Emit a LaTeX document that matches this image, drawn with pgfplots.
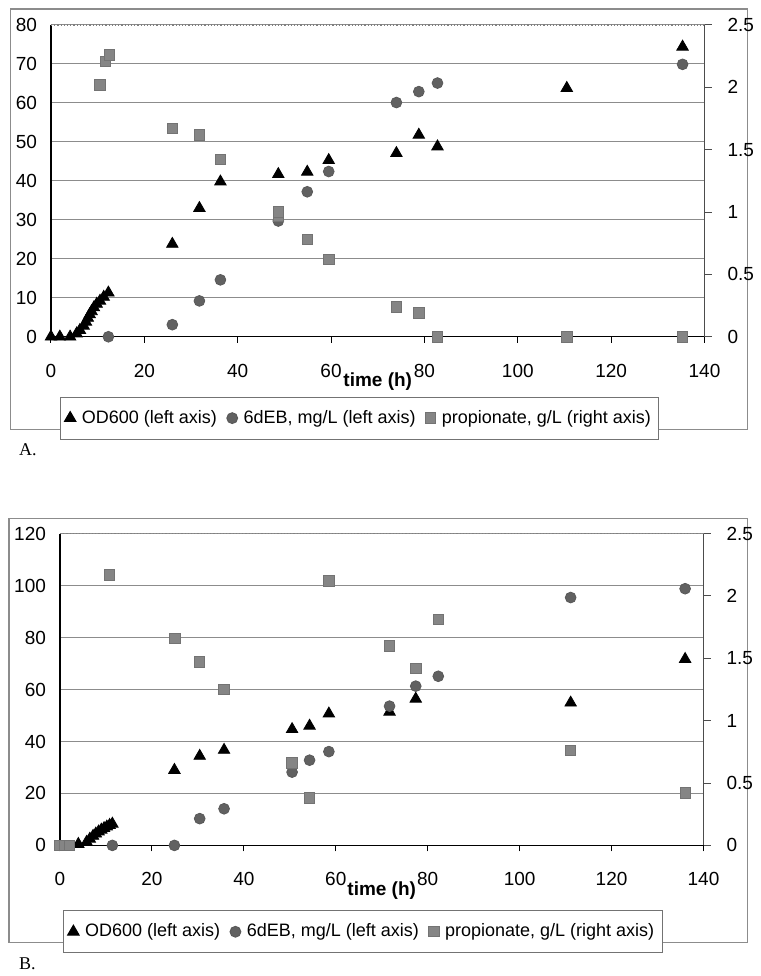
\documentclass[border=0pt]{standalone}
\usepackage{pgfplots}
\pgfplotsset{compat=1.18}
\usepackage{fontspec}
\setmainfont{Liberation Sans}
\newfontfamily\serif{Liberation Serif}

% shared look of the two panels
\pgfplotsset{
  leftax/.style={
    anchor=south west, scale only axis, width=327pt, height=156pt,
    xmin=0, xmax=140, xtick={0,20,...,140}, ymin=0,
    axis x line*=bottom, axis y line*=left,
    axis line style={black, line width=0.6pt},
    ymajorgrids, grid style={black!45, line width=0.5pt},
    tick align=outside, major tick length=3pt,
    ytick style={draw=none}, xtick style={black, line width=0.5pt},
    tick label style={font=\fontsize{9.5}{11}\selectfont},
    /pgf/number format/assume math mode=true,
    xticklabel style={yshift=-7pt}, yticklabel style={xshift=-0.5pt},
    xlabel={\textbf{time (h)}},
    xlabel style={at={(0.5,-0.145)}, anchor=center, font=\fontsize{9.5}{11}\selectfont},
    clip=false,
  },
  rightax/.style={
    anchor=south west, scale only axis, width=327pt, height=156pt,
    xmin=0, xmax=140, ymin=0, ymax=2.5, ytick={0,0.5,...,2.5},
    axis y line*=right, axis x line=none,
    axis line style={black!70, line width=0.6pt},
    tick align=outside, major tick length=3.5pt,
    ytick style={black!70, line width=0.5pt},
    tick label style={font=\fontsize{9.5}{11}\selectfont},
    /pgf/number format/assume math mode=true,
    yticklabel style={xshift=4.5pt},
    clip=false,
    legend columns=3,
    legend style={anchor=north west, draw=black!55, line width=0.5pt,
      font=\fontsize{9}{11}\selectfont, inner xsep=2pt, inner ysep=4.5pt,
      /tikz/every odd column/.append style={column sep=1pt},
      /tikz/every even column/.append style={column sep=3pt}},
    legend image code/.code={\draw[mark repeat=1,#1] plot coordinates {(0.1cm,0cm)};},
  },
  od/.style={only marks, mark=triangle*, mark size=3.3pt, black},
  deb/.style={only marks, mark=*, mark size=2.7pt, draw=black!65, fill=black!62},
  prop/.style={only marks, mark=square*, mark size=2.6pt, draw=black!55, fill=black!48},
}

\begin{document}
\begin{tikzpicture}
% page: 755 x 976 px, 1 px = 0.5pt
\path (0pt,0pt) rectangle (377.5pt,488pt);

% ---------------- panel A ----------------
\draw[black!45, line width=0.6pt] (5.25pt,483.5pt) rectangle (374pt,273pt);

\begin{axis}[leftax, at={(25.5pt,319.5pt)}, ymax=80, ytick={0,10,...,80}]
\draw[black!50, densely dotted, line width=0.6pt] (rel axis cs:0,1) -- (rel axis cs:1,1);
% OD600
\addplot[od] coordinates {
 (0,0) (1.9,0) (4.1,0) (5.5,0.8) (6.2,1.7) (7,2.8) (7.5,3.8) (7.9,4.8) (8.3,5.7)
 (8.7,6.5) (9.2,7.5) (9.8,8.4) (10.5,9.2) (11.3,10.2) (12.3,11.3)
 (26,23.8) (31.8,33) (36.3,39.8) (48.7,41.7) (54.9,42.3) (59.5,45.3)
 (74,47.1) (78.8,51.8) (82.8,48.8) (110.5,63.8) (135.3,74.4)
};
% 6dEB
\addplot[deb] coordinates {
 (12.3,0) (26,3.1) (31.8,9.2) (36.3,14.6) (48.7,29.7) (54.9,37.2) (59.5,42.4)
 (74,60.1) (78.8,62.9) (82.8,65.1) (135.3,69.9)
};
\end{axis}

\begin{axis}[rightax, at={(25.5pt,319.5pt)},
  legend style={at={(0.0138,-0.192)}}]
\addlegendimage{od}
\addlegendentry{OD600 (left axis)}
\addlegendimage{deb}
\addlegendentry{6dEB, mg/L (left axis)}
% propionate
\addplot[prop] coordinates {
 (10.5,2.02) (11.6,2.21) (12.5,2.26) (26,1.67) (31.8,1.62) (36.3,1.42)
 (48.7,0.97) (48.7,1.0) (54.9,0.78) (59.5,0.62) (74,0.24) (78.8,0.19)
 (82.8,0) (110.5,0) (135.3,0)
};
\addlegendentry{propionate, g/L (right axis)}
\end{axis}

\node[anchor=west, font=\serif\fontsize{9}{10}\selectfont] at (6pt,263pt) {A.};

% ---------------- panel B ----------------
\draw[black!45, line width=0.6pt] (4.5pt,228.5pt) rectangle (374pt,16.5pt);

\begin{axis}[leftax, at={(30pt,65pt)}, width=322pt, ymax=120, ytick={0,20,...,120}]
\draw[black!50, densely dotted, line width=0.6pt] (rel axis cs:0,1) -- (rel axis cs:1,1);
% OD600
\addplot[od] coordinates {
 (4,0.5) (5.8,1.3) (6.5,2.5) (7.2,3.6) (7.8,4.5) (8.4,5.3) (9,6) (9.6,6.6)
 (10.2,7.2) (10.8,7.8) (11.4,8.3)
 (24.9,29) (30.4,34.4) (35.7,36.7) (50.5,44.7) (54.3,46) (58.5,50.7)
 (71.7,51.4) (77.4,56.4) (111.1,54.9) (136,71.7)
};
% 6dEB
\addplot[deb] coordinates {
 (11.4,0) (24.9,0) (30.4,10.3) (35.7,14.1) (50.5,28.2) (54.3,32.8) (58.5,36.1)
 (71.7,53.6) (77.4,61.3) (82.3,65.1) (111.1,95.4) (136,98.8)
};
\end{axis}

\begin{axis}[rightax, at={(30pt,65pt)}, width=322pt,
  legend style={at={(0.005,-0.208)}}]
\addlegendimage{od}
\addlegendentry{OD600 (left axis)}
\addlegendimage{deb}
\addlegendentry{6dEB, mg/L (left axis)}
% propionate
\addplot[prop] coordinates {
 (0,0) (1.1,0) (2.1,0) (10.7,2.17) (25,1.66) (30.4,1.47) (35.7,1.25)
 (50.5,0.66) (54.3,0.38) (58.5,2.12) (71.7,1.60) (77.4,1.42) (82.3,1.81)
 (111.1,0.76) (136,0.42)
};
\addlegendentry{propionate, g/L (right axis)}
\end{axis}

\node[anchor=west, font=\serif\fontsize{9}{10}\selectfont] at (6pt,6pt) {B.};
\end{tikzpicture}
\end{document}
